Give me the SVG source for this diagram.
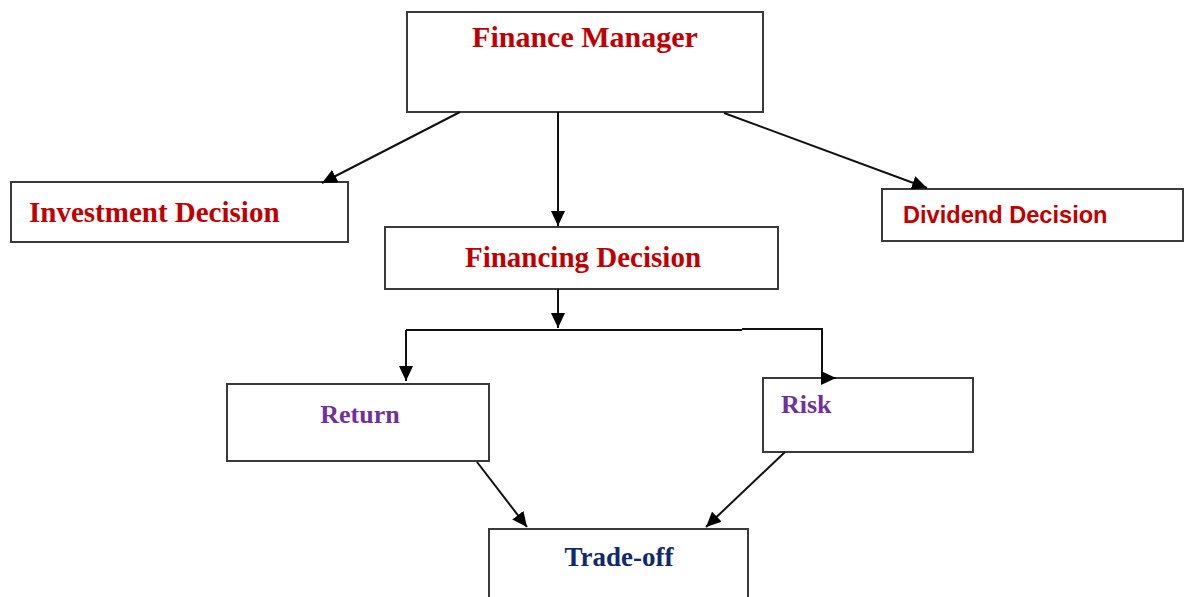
<svg xmlns="http://www.w3.org/2000/svg" width="1185" height="597" viewBox="0 0 1185 597">
<style>
.box{fill:#fff;stroke:#3a3a3a;stroke-width:2}
.ser{font-family:"Liberation Serif","Times New Roman",serif;font-weight:bold}
.san{font-family:"Liberation Sans",Arial,sans-serif;font-weight:bold}
.red{fill:#c00000}
.pur{fill:#7030a0}
.nav{fill:#0f2a6b}
.con{fill:none;stroke:#111;stroke-width:2}
</style>
<defs>
<marker id="ah" markerUnits="userSpaceOnUse" markerWidth="16" markerHeight="14" refX="15" refY="7" orient="auto">
<path d="M0,0 L15,7 L0,14 z" fill="#000"/>
</marker>
</defs>
<rect width="1185" height="597" fill="#fff"/>
<g id="finance-manager">
<rect class="box" x="407" y="12" width="356" height="100"/>
<text class="ser red" x="585" y="47" font-size="30" text-anchor="middle">Finance Manager</text>
</g>
<g id="investment-decision">
<rect class="box" x="11" y="182" width="337" height="60"/>
<text class="ser red" x="29" y="222" font-size="29">Investment Decision</text>
</g>
<g id="financing-decision">
<rect class="box" x="385" y="227" width="393" height="62"/>
<text class="ser red" x="583" y="267" font-size="29" text-anchor="middle">Financing Decision</text>
</g>
<g id="dividend-decision">
<rect class="box" x="882" y="189" width="301" height="52"/>
<text class="san red" x="903" y="223" font-size="23.6">Dividend Decision</text>
</g>
<g id="return">
<rect class="box" x="227" y="384" width="262" height="77"/>
<text class="ser pur" x="360" y="423" font-size="26" text-anchor="middle">Return</text>
</g>
<g id="risk">
<rect class="box" x="763" y="378" width="210" height="74"/>
<text class="ser pur" x="781" y="413" font-size="26">Risk</text>
</g>
<g id="trade-off">
<rect class="box" x="489" y="529" width="259" height="80"/>
<text class="ser nav" x="619" y="566" font-size="27" text-anchor="middle">Trade-off</text>
</g>
<g id="connectors">
<path class="con" d="M460,112 L322,183" marker-end="url(#ah)"/>
<path class="con" d="M558,112 L558,226" marker-end="url(#ah)"/>
<path class="con" d="M724,113 L927,188" marker-end="url(#ah)"/>
<path class="con" d="M558,289 L558,328" marker-end="url(#ah)"/>
<path class="con" d="M406,330 H742"/>
<path class="con" d="M742,329 H822 V378 H836" marker-end="url(#ah)"/>
<path class="con" d="M406,330 V381" marker-end="url(#ah)"/>
<path class="con" d="M477,462 L527,527" marker-end="url(#ah)"/>
<path class="con" d="M785,452 L706,527" marker-end="url(#ah)"/>
</g>
</svg>
